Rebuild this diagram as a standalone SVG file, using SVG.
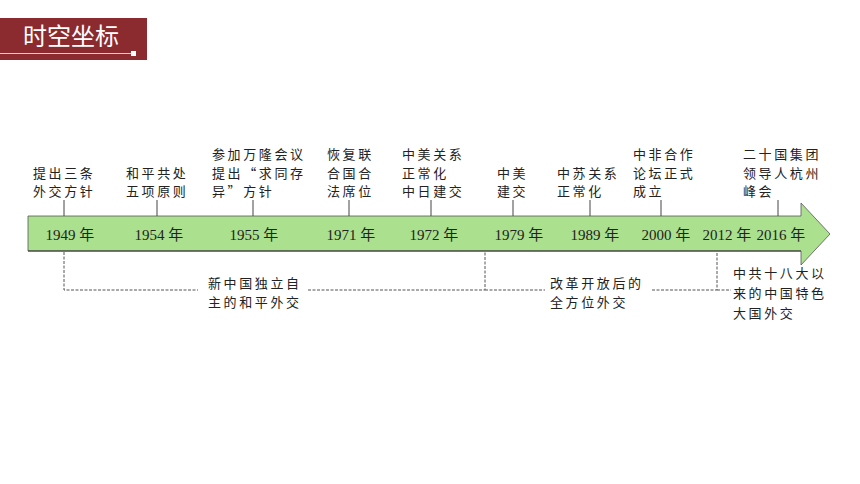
<svg xmlns="http://www.w3.org/2000/svg" width="860" height="484" viewBox="0 0 860 484">
<style>
.lbl{font-family:"Noto Sans CJK SC","Noto Sans CJK TC",sans-serif;font-size:13px;letter-spacing:2.6px;fill:#222}
.yr{font-family:"Liberation Serif","Noto Sans CJK SC",serif;font-size:15px;fill:#222;text-anchor:middle}
.tick{stroke:#444;stroke-width:1}
.dash{stroke:#555;stroke-width:1;stroke-dasharray:3 1.5;fill:none}
</style>
<rect width="860" height="484" fill="#ffffff"/>
<g id="title">
<rect x="0" y="18" width="147" height="42" fill="#8b2a2f"/>
<text x="71" y="45" font-family="Noto Sans CJK SC,sans-serif" font-size="24" fill="#ffffff" text-anchor="middle">时空坐标</text>
<line x1="0" y1="53.5" x2="131" y2="53.5" stroke="#e8c8c8" stroke-width="1"/>
<rect x="131" y="51" width="5" height="5" fill="#ffffff"/>
</g>
<g id="timeline">
<polygon points="28,216 801,216 801,203 830,234 801,265 801,251 28,251" fill="#abe08e" stroke="#555" stroke-width="0.8"/>
<line x1="28" y1="251" x2="801" y2="251" stroke="#333" stroke-width="1.2"/>
</g>
<g id="connectors">
<line class="tick" x1="64" y1="200" x2="64" y2="216"/>
<line class="tick" x1="157" y1="200" x2="157" y2="216"/>
<line class="tick" x1="253" y1="200" x2="253" y2="216"/>
<line class="tick" x1="349" y1="200" x2="349" y2="216"/>
<line class="tick" x1="431" y1="200" x2="431" y2="216"/>
<line class="tick" x1="513" y1="200" x2="513" y2="216"/>
<line class="tick" x1="590" y1="200" x2="590" y2="216"/>
<line class="tick" x1="661" y1="200" x2="661" y2="216"/>
<line class="tick" x1="778" y1="200" x2="778" y2="216"/>
<polyline class="dash" points="64,252 64,290 198,290"/>
<polyline class="dash" points="308,290 485,290 485,252"/>
<line class="dash" x1="485" y1="290" x2="545" y2="290"/>
<polyline class="dash" points="652,290 717,290 717,252"/>
<line class="dash" x1="717" y1="290" x2="731" y2="290"/>
</g>
<g id="years">
<text class="yr" x="70" y="240">1949 年</text>
<text class="yr" x="159" y="240">1954 年</text>
<text class="yr" x="254" y="240">1955 年</text>
<text class="yr" x="351" y="240">1971 年</text>
<text class="yr" x="434" y="240">1972 年</text>
<text class="yr" x="519" y="240">1979 年</text>
<text class="yr" x="595" y="240">1989 年</text>
<text class="yr" x="666" y="240">2000 年</text>
<text class="yr" x="727" y="240">2012 年</text>
<text class="yr" x="781" y="240">2016 年</text>
</g>
<g id="e1949"><text class="lbl" x="33" y="178">提出三条</text><text class="lbl" x="33" y="196">外交方针</text></g>
<g id="e1954"><text class="lbl" x="126" y="178">和平共处</text><text class="lbl" x="126" y="196">五项原则</text></g>
<g id="e1955"><text class="lbl" x="212" y="159">参加万隆会议</text><text class="lbl" x="212" y="178">提出“求同存</text><text class="lbl" x="212" y="196">异”方针</text></g>
<g id="e1971"><text class="lbl" x="327" y="159">恢复联</text><text class="lbl" x="327" y="178">合国合</text><text class="lbl" x="327" y="196">法席位</text></g>
<g id="e1972"><text class="lbl" x="402" y="159">中美关系</text><text class="lbl" x="402" y="178">正常化</text><text class="lbl" x="402" y="196">中日建交</text></g>
<g id="e1979"><text class="lbl" x="497" y="178">中美</text><text class="lbl" x="497" y="196">建交</text></g>
<g id="e1989"><text class="lbl" x="557" y="178">中苏关系</text><text class="lbl" x="557" y="196">正常化</text></g>
<g id="e2000"><text class="lbl" x="633" y="159">中非合作</text><text class="lbl" x="633" y="178">论坛正式</text><text class="lbl" x="633" y="196">成立</text></g>
<g id="e2016"><text class="lbl" x="743" y="159">二十国集团</text><text class="lbl" x="743" y="178">领导人杭州</text><text class="lbl" x="743" y="196">峰会</text></g>
<g id="p1"><text class="lbl" x="208" y="288">新中国独立自</text><text class="lbl" x="208" y="307">主的和平外交</text></g>
<g id="p2"><text class="lbl" x="550" y="288">改革开放后的</text><text class="lbl" x="550" y="307">全方位外交</text></g>
<g id="p3"><text class="lbl" x="733" y="278">中共十八大以</text><text class="lbl" x="733" y="298">来的中国特色</text><text class="lbl" x="733" y="318">大国外交</text></g>
</svg>
